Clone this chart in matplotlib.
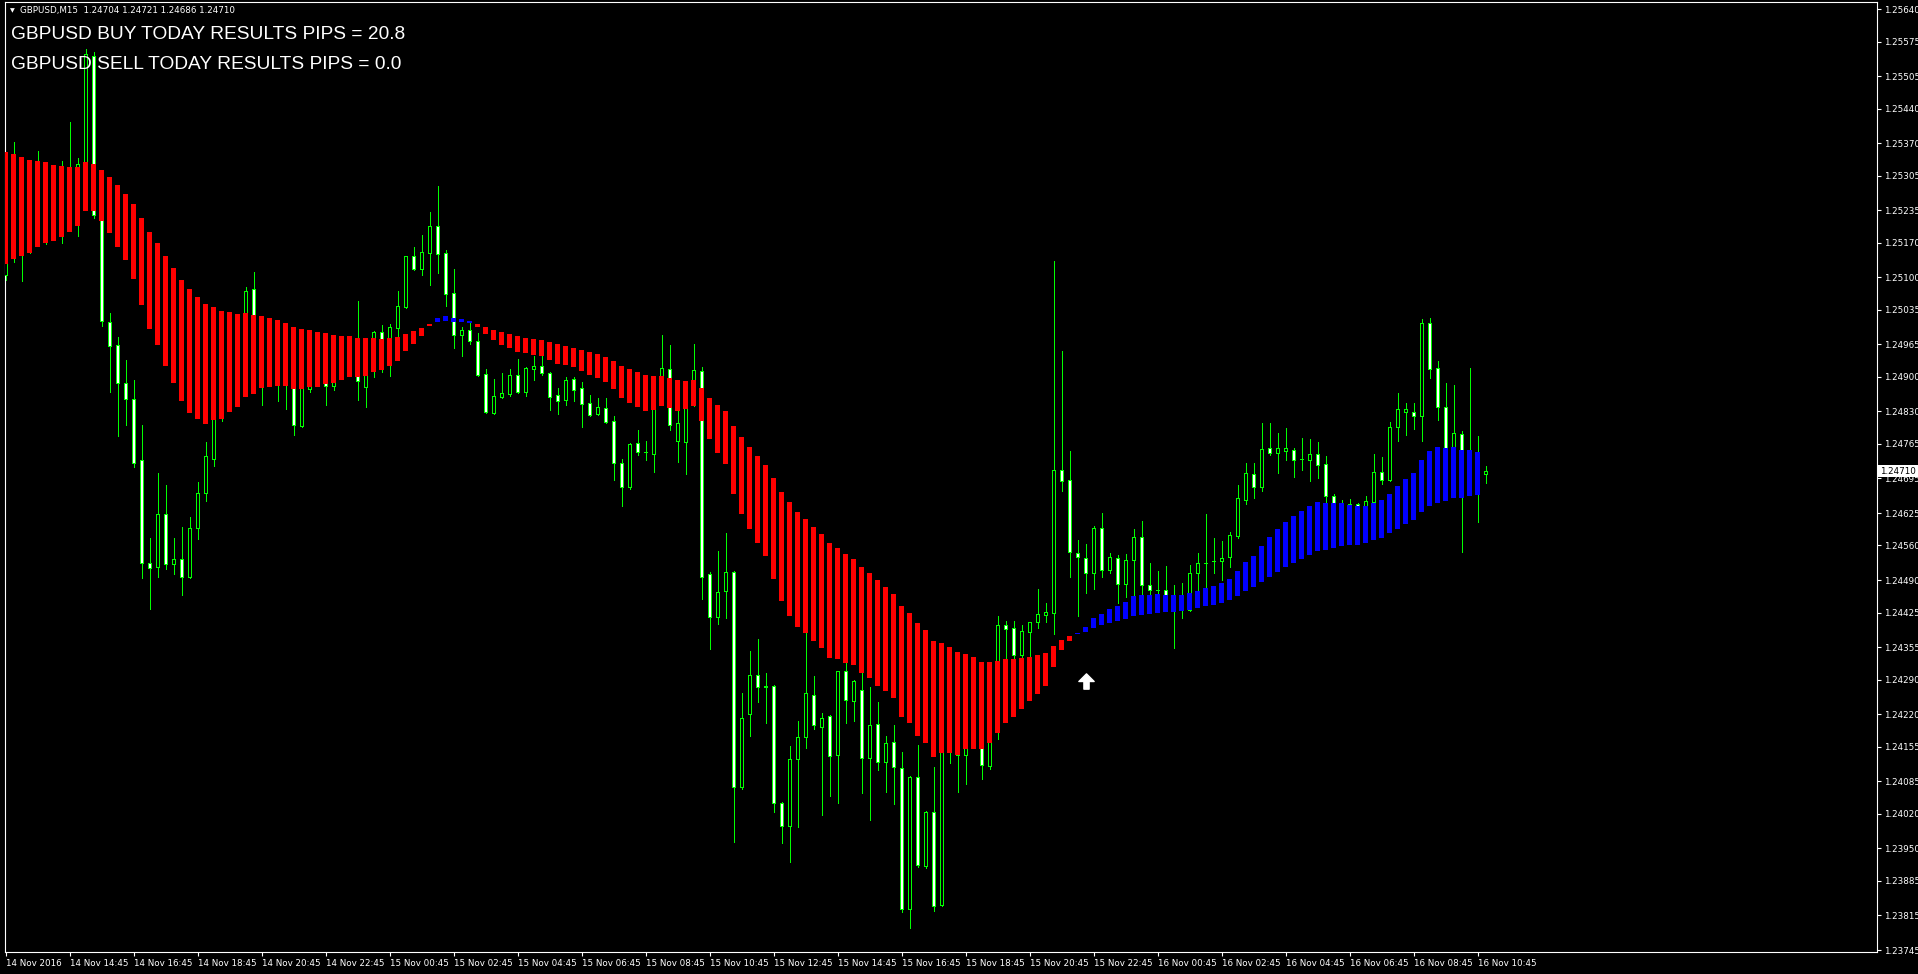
import matplotlib
matplotlib.use("Agg")
import matplotlib.pyplot as plt
import numpy as np
from matplotlib.path import Path
from matplotlib.transforms import blended_transform_factory

# GBPUSD M15 candles, 14 Nov 12:45 .. 16 Nov 11:00
opens = [1.25105, 1.25150, 1.25220, 1.25180, 1.25240, 1.25270, 1.25220, 1.25260, 1.25210, 1.25270,
         1.25328, 1.25545, 1.25226, 1.25010, 1.24963, 1.24887, 1.24856, 1.24733, 1.24524, 1.24516,
         1.24623, 1.24522, 1.24532, 1.24496, 1.24595, 1.24666, 1.24735, 1.24860, 1.24940, 1.24980,
         1.24960, 1.25076, 1.24990, 1.24930, 1.24950, 1.24900, 1.24940, 1.24800, 1.24875, 1.24920,
         1.24920, 1.24881, 1.24910, 1.24940, 1.24930, 1.24879, 1.24920, 1.24990, 1.24940, 1.24998,
         1.25040, 1.25143, 1.25117, 1.25149, 1.25203, 1.25149, 1.25068, 1.24984, 1.24994, 1.24972,
         1.24905, 1.24827, 1.24859, 1.24865, 1.24903, 1.24869, 1.24915, 1.24921, 1.24907, 1.24863,
         1.24853, 1.24895, 1.24877, 1.24846, 1.24825, 1.24836, 1.24810, 1.24727, 1.24677, 1.24766,
         1.24748, 1.24745, 1.24870, 1.24915, 1.24771, 1.24769, 1.24866, 1.24911, 1.24503, 1.24416,
         1.24469, 1.24506, 1.24073, 1.24220, 1.24299, 1.24276, 1.24277, 1.24042, 1.23996, 1.24130,
         1.24175, 1.24258, 1.24195, 1.24216, 1.24139, 1.24307, 1.24246, 1.24268, 1.24133, 1.24201,
         1.24123, 1.24165, 1.24111, 1.23827, 1.24094, 1.23915, 1.24024, 1.23836, 1.24160, 1.24200,
         1.24138, 1.24180, 1.24180, 1.24116, 1.24200, 1.24400, 1.24394, 1.24340, 1.24386, 1.24406,
         1.24420, 1.24424, 1.24712, 1.24692, 1.24545, 1.24534, 1.24504, 1.24595, 1.24510, 1.24535,
         1.24482, 1.24531, 1.24577, 1.24480, 1.24470, 1.24470, 1.24461, 1.24440, 1.24430, 1.24505,
         1.24525, 1.24528, 1.24528, 1.24536, 1.24580, 1.24652, 1.24704, 1.24677, 1.24756, 1.24747,
         1.24751, 1.24752, 1.24734, 1.24732, 1.24744, 1.24724, 1.24660, 1.24630, 1.24643, 1.24643,
         1.24630, 1.24647, 1.24708, 1.24692, 1.24799, 1.24829, 1.24828, 1.24821, 1.25008, 1.24918,
         1.24838, 1.24740, 1.24784, 1.24710, 1.24695, 1.24704]
highs = [1.25200, 1.25373, 1.25300, 1.25290, 1.25355, 1.25300, 1.25300, 1.25334, 1.25413, 1.25340,
         1.25560, 1.25554, 1.25235, 1.25028, 1.24980, 1.24934, 1.24893, 1.24802, 1.24576, 1.24705,
         1.24681, 1.24575, 1.24597, 1.24618, 1.24688, 1.24768, 1.24880, 1.24970, 1.25010, 1.25010,
         1.25080, 1.25110, 1.25000, 1.24990, 1.24990, 1.24980, 1.24970, 1.24940, 1.24960, 1.24950,
         1.24950, 1.24940, 1.24960, 1.24960, 1.25052, 1.24940, 1.24992, 1.25004, 1.25006, 1.25072,
         1.25143, 1.25161, 1.25185, 1.25231, 1.25284, 1.25155, 1.25117, 1.25000, 1.25008, 1.24988,
         1.24915, 1.24895, 1.24907, 1.24915, 1.24935, 1.24919, 1.24941, 1.24941, 1.24909, 1.24877,
         1.24899, 1.24899, 1.24889, 1.24863, 1.24858, 1.24858, 1.24820, 1.24734, 1.24766, 1.24792,
         1.24770, 1.24890, 1.24984, 1.24963, 1.24830, 1.24880, 1.24966, 1.24919, 1.24506, 1.24549,
         1.24585, 1.24508, 1.24263, 1.24347, 1.24372, 1.24303, 1.24279, 1.24044, 1.24156, 1.24206,
         1.24400, 1.24297, 1.24222, 1.24218, 1.24308, 1.24323, 1.24290, 1.24303, 1.24276, 1.24245,
         1.24176, 1.24198, 1.24144, 1.24096, 1.24158, 1.24026, 1.24113, 1.24180, 1.24250, 1.24240,
         1.24220, 1.24200, 1.24200, 1.24250, 1.24418, 1.24408, 1.24408, 1.24400, 1.24406, 1.24473,
         1.24444, 1.25133, 1.24952, 1.24750, 1.24571, 1.24563, 1.24599, 1.24626, 1.24545, 1.24541,
         1.24543, 1.24593, 1.24609, 1.24525, 1.24509, 1.24519, 1.24481, 1.24485, 1.24521, 1.24545,
         1.24623, 1.24575, 1.24569, 1.24587, 1.24682, 1.24726, 1.24726, 1.24807, 1.24807, 1.24787,
         1.24797, 1.24756, 1.24776, 1.24774, 1.24768, 1.24740, 1.24663, 1.24651, 1.24653, 1.24645,
         1.24659, 1.24744, 1.24738, 1.24808, 1.24867, 1.24847, 1.24847, 1.25016, 1.25018, 1.24931,
         1.24887, 1.24883, 1.24790, 1.24917, 1.24780, 1.24721]
lows = [1.25095, 1.25130, 1.25092, 1.25150, 1.25200, 1.25168, 1.25190, 1.25170, 1.25200, 1.25184,
        1.25305, 1.25220, 1.25003, 1.24869, 1.24781, 1.24802, 1.24718, 1.24494, 1.24433, 1.24497,
        1.24513, 1.24502, 1.24461, 1.24494, 1.24573, 1.24650, 1.24720, 1.24810, 1.24900, 1.24920,
        1.24930, 1.24960, 1.24843, 1.24890, 1.24851, 1.24835, 1.24782, 1.24798, 1.24870, 1.24885,
        1.24843, 1.24873, 1.24900, 1.24905, 1.24853, 1.24839, 1.24900, 1.24910, 1.24901, 1.24970,
        1.25038, 1.25115, 1.25105, 1.25084, 1.25109, 1.25042, 1.24958, 1.24941, 1.24966, 1.24901,
        1.24827, 1.24825, 1.24857, 1.24861, 1.24867, 1.24861, 1.24893, 1.24903, 1.24833, 1.24825,
        1.24843, 1.24851, 1.24799, 1.24820, 1.24823, 1.24807, 1.24692, 1.24639, 1.24674, 1.24742,
        1.24732, 1.24708, 1.24850, 1.24793, 1.24728, 1.24704, 1.24840, 1.24452, 1.24352, 1.24402,
        1.24414, 1.23962, 1.24070, 1.24177, 1.24245, 1.24202, 1.24024, 1.23961, 1.23922, 1.23993,
        1.24152, 1.24191, 1.24017, 1.24055, 1.24042, 1.24203, 1.24206, 1.24061, 1.24007, 1.24108,
        1.24063, 1.24040, 1.23821, 1.23790, 1.23912, 1.23910, 1.23824, 1.23833, 1.24122, 1.24063,
        1.24080, 1.24155, 1.24090, 1.24110, 1.24170, 1.24320, 1.24330, 1.24330, 1.24336, 1.24394,
        1.24406, 1.24382, 1.24669, 1.24497, 1.24418, 1.24465, 1.24473, 1.24496, 1.24505, 1.24445,
        1.24457, 1.24459, 1.24461, 1.24460, 1.24450, 1.24450, 1.24354, 1.24414, 1.24428, 1.24468,
        1.24468, 1.24505, 1.24491, 1.24517, 1.24576, 1.24644, 1.24656, 1.24670, 1.24742, 1.24706,
        1.24732, 1.24698, 1.24712, 1.24690, 1.24696, 1.24640, 1.24590, 1.24600, 1.24610, 1.24600,
        1.24610, 1.24630, 1.24684, 1.24690, 1.24771, 1.24783, 1.24795, 1.24771, 1.24897, 1.24813,
        1.24720, 1.24720, 1.24547, 1.24670, 1.24608, 1.24686]
closes = [1.25150, 1.25220, 1.25180, 1.25240, 1.25270, 1.25220, 1.25260, 1.25210, 1.25270, 1.25328,
          1.25550, 1.25226, 1.25012, 1.24961, 1.24887, 1.24856, 1.24726, 1.24525, 1.24514, 1.24623,
          1.24522, 1.24532, 1.24496, 1.24595, 1.24666, 1.24740, 1.24860, 1.24940, 1.24980, 1.24960,
          1.25072, 1.24990, 1.24930, 1.24950, 1.24900, 1.24940, 1.24802, 1.24900, 1.24920, 1.24900,
          1.24881, 1.24910, 1.24940, 1.24920, 1.24891, 1.24920, 1.24990, 1.24940, 1.25000, 1.25042,
          1.25143, 1.25117, 1.25151, 1.25203, 1.25147, 1.25067, 1.24984, 1.24994, 1.24972, 1.24903,
          1.24829, 1.24861, 1.24867, 1.24903, 1.24869, 1.24917, 1.24921, 1.24907, 1.24859, 1.24851,
          1.24893, 1.24874, 1.24845, 1.24823, 1.24838, 1.24809, 1.24727, 1.24677, 1.24764, 1.24748,
          1.24749, 1.24870, 1.24917, 1.24803, 1.24806, 1.24865, 1.24913, 1.24497, 1.24416, 1.24466,
          1.24506, 1.24073, 1.24213, 1.24299, 1.24276, 1.24276, 1.24042, 1.23996, 1.24131, 1.24175,
          1.24262, 1.24199, 1.24212, 1.24137, 1.24307, 1.24248, 1.24288, 1.24133, 1.24198, 1.24123,
          1.24163, 1.24113, 1.23827, 1.24094, 1.23916, 1.24024, 1.23834, 1.24160, 1.24200, 1.24138,
          1.24180, 1.24160, 1.24118, 1.24200, 1.24400, 1.24392, 1.24340, 1.24388, 1.24406, 1.24422,
          1.24426, 1.24712, 1.24689, 1.24546, 1.24536, 1.24504, 1.24595, 1.24510, 1.24537, 1.24482,
          1.24531, 1.24577, 1.24480, 1.24470, 1.24470, 1.24461, 1.24440, 1.24455, 1.24505, 1.24525,
          1.24525, 1.24528, 1.24534, 1.24581, 1.24656, 1.24706, 1.24677, 1.24754, 1.24747, 1.24756,
          1.24756, 1.24732, 1.24734, 1.24744, 1.24722, 1.24660, 1.24630, 1.24640, 1.24643, 1.24630,
          1.24649, 1.24709, 1.24692, 1.24798, 1.24835, 1.24835, 1.24821, 1.25008, 1.24916, 1.24838,
          1.24740, 1.24786, 1.24710, 1.24695, 1.24704, 1.24710]

# indicator band (histogram between two smoothed lines), r = down, b = up
band_top = [1.25352, 1.25349, 1.25343, 1.25337, 1.25335, 1.25332, 1.25326, 1.25324, 1.25323, 1.25323,
            1.25332, 1.25329, 1.25317, 1.25302, 1.25286, 1.25268, 1.25248, 1.25220, 1.25191, 1.25169,
            1.25143, 1.25119, 1.25095, 1.25077, 1.25060, 1.25046, 1.25040, 1.25032, 1.25030, 1.25026,
            1.25028, 1.25024, 1.25022, 1.25018, 1.25014, 1.25008, 1.25000, 1.24996, 1.24994, 1.24990,
            1.24988, 1.24984, 1.24982, 1.24982, 1.24978, 1.24978, 1.24978, 1.24976, 1.24978, 1.24980,
            1.24986, 1.24992, 1.24998, 1.25006, 1.25018, 1.25022, 1.25018, 1.25016, 1.25012, 1.25006,
            1.25000, 1.24994, 1.24990, 1.24986, 1.24982, 1.24978, 1.24976, 1.24974, 1.24970, 1.24966,
            1.24962, 1.24958, 1.24953, 1.24949, 1.24945, 1.24939, 1.24931, 1.24921, 1.24915, 1.24909,
            1.24903, 1.24901, 1.24901, 1.24897, 1.24893, 1.24891, 1.24893, 1.24877, 1.24858, 1.24843,
            1.24830, 1.24800, 1.24778, 1.24758, 1.24740, 1.24722, 1.24696, 1.24668, 1.24647, 1.24628,
            1.24613, 1.24597, 1.24583, 1.24565, 1.24555, 1.24542, 1.24533, 1.24517, 1.24504, 1.24490,
            1.24476, 1.24462, 1.24438, 1.24424, 1.24404, 1.24390, 1.24367, 1.24363, 1.24355, 1.24346,
            1.24342, 1.24336, 1.24326, 1.24326, 1.24328, 1.24332, 1.24332, 1.24334, 1.24336, 1.24340,
            1.24344, 1.24358, 1.24370, 1.24378, 1.24384, 1.24396, 1.24414, 1.24422, 1.24432, 1.24438,
            1.24446, 1.24458, 1.24461, 1.24461, 1.24462, 1.24460, 1.24460, 1.24460, 1.24464, 1.24468,
            1.24474, 1.24479, 1.24485, 1.24493, 1.24509, 1.24527, 1.24539, 1.24559, 1.24577, 1.24593,
            1.24607, 1.24619, 1.24629, 1.24639, 1.24648, 1.24646, 1.24645, 1.24645, 1.24641, 1.24639,
            1.24639, 1.24645, 1.24651, 1.24663, 1.24679, 1.24694, 1.24706, 1.24732, 1.24750, 1.24758,
            1.24756, 1.24758, 1.24752, 1.24752, 1.24748]
band_bot = [1.25127, 1.25137, 1.25143, 1.25149, 1.25161, 1.25169, 1.25174, 1.25181, 1.25191, 1.25203,
            1.25233, 1.25234, 1.25214, 1.25189, 1.25161, 1.25135, 1.25097, 1.25045, 1.24997, 1.24963,
            1.24922, 1.24888, 1.24852, 1.24827, 1.24814, 1.24804, 1.24812, 1.24814, 1.24829, 1.24839,
            1.24859, 1.24865, 1.24877, 1.24879, 1.24881, 1.24881, 1.24875, 1.24875, 1.24879, 1.24879,
            1.24885, 1.24887, 1.24893, 1.24899, 1.24899, 1.24901, 1.24909, 1.24913, 1.24921, 1.24931,
            1.24952, 1.24966, 1.24982, 1.25002, 1.25010, 1.25012, 1.25010, 1.25010, 1.25008, 1.25000,
            1.24986, 1.24974, 1.24964, 1.24958, 1.24950, 1.24948, 1.24943, 1.24941, 1.24933, 1.24925,
            1.24923, 1.24919, 1.24911, 1.24903, 1.24897, 1.24889, 1.24875, 1.24857, 1.24847, 1.24838,
            1.24830, 1.24833, 1.24840, 1.24837, 1.24830, 1.24835, 1.24840, 1.24810, 1.24774, 1.24746,
            1.24724, 1.24664, 1.24623, 1.24593, 1.24565, 1.24538, 1.24492, 1.24448, 1.24418, 1.24395,
            1.24384, 1.24367, 1.24353, 1.24333, 1.24331, 1.24323, 1.24319, 1.24303, 1.24293, 1.24277,
            1.24267, 1.24252, 1.24214, 1.24202, 1.24176, 1.24162, 1.24134, 1.24142, 1.24142, 1.24138,
            1.24150, 1.24150, 1.24150, 1.24163, 1.24183, 1.24203, 1.24215, 1.24231, 1.24247, 1.24261,
            1.24277, 1.24316, 1.24350, 1.24368, 1.24382, 1.24386, 1.24394, 1.24400, 1.24404, 1.24408,
            1.24412, 1.24418, 1.24420, 1.24422, 1.24424, 1.24426, 1.24426, 1.24428, 1.24430, 1.24434,
            1.24438, 1.24440, 1.24444, 1.24450, 1.24458, 1.24469, 1.24477, 1.24487, 1.24497, 1.24507,
            1.24517, 1.24525, 1.24533, 1.24541, 1.24549, 1.24551, 1.24555, 1.24559, 1.24561, 1.24561,
            1.24565, 1.24571, 1.24575, 1.24585, 1.24593, 1.24603, 1.24611, 1.24627, 1.24639, 1.24645,
            1.24649, 1.24655, 1.24655, 1.24659, 1.24661]
band_dir = "r" * 54 + "b" * 5 + "r" * 75 + "b" * 51

buy_signal_bar = 135
buy_signal_price = 1.24287

time_labels = ["14 Nov 2016", "14 Nov 14:45", "14 Nov 16:45", "14 Nov 18:45", "14 Nov 20:45",
               "14 Nov 22:45", "15 Nov 00:45", "15 Nov 02:45", "15 Nov 04:45", "15 Nov 06:45",
               "15 Nov 08:45", "15 Nov 10:45", "15 Nov 12:45", "15 Nov 14:45", "15 Nov 16:45",
               "15 Nov 18:45", "15 Nov 20:45", "15 Nov 22:45", "16 Nov 00:45", "16 Nov 02:45",
               "16 Nov 04:45", "16 Nov 06:45", "16 Nov 08:45", "16 Nov 10:45"]
price_labels = ["1.25640", "1.25575", "1.25505", "1.25440", "1.25370", "1.25305", "1.25235",
                "1.25170", "1.25100", "1.25035", "1.24965", "1.24900", "1.24830", "1.24765",
                "1.24695", "1.24625", "1.24560", "1.24490", "1.24425", "1.24355", "1.24290",
                "1.24220", "1.24155", "1.24085", "1.24020", "1.23950", "1.23885", "1.23815",
                "1.23745"]

header = "GBPUSD,M15  1.24704 1.24721 1.24686 1.24710"
buy_text = "GBPUSD BUY TODAY RESULTS PIPS = 20.8"
sell_text = "GBPUSD SELL TODAY RESULTS PIPS = 0.0"
last_price = 1.24710

W, H = 1918, 974
GREEN = "#00ff00"
X0 = 5.5   # pixel centre of the first bar
STEP = 8   # pixels per bar

fig = plt.figure(figsize=(W / 100, H / 100), dpi=100, facecolor="black")
ax = fig.add_axes([4.5 / W, 22 / H, (1877 - 4.5) / W, 950 / H])
ax.set_facecolor("black")

o = np.array(opens)
c = np.array(closes)
x = np.arange(len(o))
bear = c < o
lo = np.minimum(o, c)
hgt = np.maximum(np.abs(c - o), 0.000001)

ax.vlines(x, lows, highs, color=GREEN, lw=0.6, zorder=2, antialiased=False)
ax.bar(x, hgt, bottom=lo, width=0.45, color=np.where(bear, "white", "black"),
       edgecolor=GREEN, linewidth=0.6, zorder=3, antialiased=False)

xb = np.arange(len(band_top))
bt = np.array(band_top)
bb = np.array(band_bot)
bcol = ["#ff0000" if d == "r" else "#0000ff" for d in band_dir]
ax.bar(xb, np.maximum(bt - bb, 0.00001), bottom=bb, width=0.72, color=bcol,
       linewidth=0, zorder=4, antialiased=False)

# buy arrow
arrow = Path([(0, 0.5), (0.5, 0.0), (0.17, 0.0), (0.17, -0.5), (-0.17, -0.5),
              (-0.17, 0.0), (-0.5, 0.0), (0, 0.5)], closed=True)
ax.plot([buy_signal_bar], [buy_signal_price], marker=arrow, ms=11, color="white",
        mec="white", ls="none", zorder=5)

ax.set_xlim((4.5 - X0) / STEP, (1877 - X0) / STEP)
ax.set_ylim(1.237413, 1.256546)

ax.set_xticks(np.arange(len(time_labels)) * 8)
ax.set_xticklabels(time_labels, ha="left")
ax.yaxis.tick_right()
ax.set_yticks([float(v) for v in price_labels])
ax.set_yticklabels(price_labels)
ax.tick_params(axis="x", colors="white", length=3, width=0.8, pad=2, labelsize=6.3)
ax.tick_params(axis="y", colors="white", length=3, width=0.8, pad=2, labelsize=6.3)
for s in ax.spines.values():
    s.set_color("white")
    s.set_linewidth(0.8)

trans = blended_transform_factory(ax.transAxes, ax.transData)
ax.text(1.0 + 3 / 1873, last_price, f"{last_price:.5f}", transform=trans, ha="left",
        va="center", fontsize=6.3, color="black", clip_on=False, zorder=10,
        bbox=dict(facecolor="white", edgecolor="none", pad=1.2))

fig.text(10 / W, 1 - 11 / H, "\u25bc", fontsize=4.5, color="white", ha="left", va="center")
fig.text(20 / W, 1 - 10 / H, header, fontsize=6.3, color="white", ha="left", va="center")
fig.text(11 / W, 1 - 39 / H, buy_text, fontsize=13.8, color="white", ha="left",
         va="baseline", family="Liberation Sans")
fig.text(11 / W, 1 - 69 / H, sell_text, fontsize=13.8, color="white", ha="left",
         va="baseline", family="Liberation Sans")

fig.savefig("out.png", dpi=100, facecolor="black")
